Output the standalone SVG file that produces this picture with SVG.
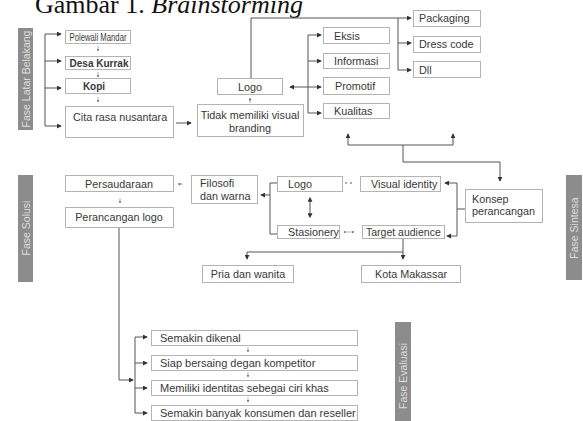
<svg xmlns="http://www.w3.org/2000/svg" width="583" height="421" viewBox="0 0 583 421">
<defs>
<marker id="ah" viewBox="0 0 6 6" refX="5" refY="3" markerWidth="5" markerHeight="5" markerUnits="userSpaceOnUse" orient="auto"><path d="M0,0 L6,3 L0,6 z" fill="#333"/></marker>
<marker id="ahs" viewBox="0 0 6 6" refX="5" refY="3" markerWidth="3" markerHeight="3" markerUnits="userSpaceOnUse" orient="auto"><path d="M0,0 L6,3 L0,6 z" fill="#777"/></marker>
<marker id="ahst" viewBox="0 0 6 6" refX="1" refY="3" markerWidth="5" markerHeight="5" markerUnits="userSpaceOnUse" orient="auto-start-reverse"><path d="M0,0 L6,3 L0,6 z" fill="#333"/></marker>
</defs>
<style>
.box{fill:#fff;stroke:#b4b4b4;stroke-width:1}
.t{font-family:"Liberation Sans",Arial,sans-serif;font-size:10.8px;fill:#383838}
.b{font-weight:bold;font-size:10px}
.e{font-size:11px}
.c{text-anchor:middle}
.bar{fill:#8c8c8c}
.bt{font-family:"Liberation Sans",Arial,sans-serif;font-size:10.5px;fill:#dedede;text-anchor:middle}
.ln{fill:none;stroke:#555;stroke-width:1}
.a{marker-end:url(#ah)}
.sm{fill:none;stroke:#999;stroke-width:0.7;marker-end:url(#ahs)}
</style>
<rect width="583" height="421" fill="#fff"/>
<text x="35" y="13" font-family="'Liberation Serif','Times New Roman',serif" font-size="26" fill="#111">Gambar 1. <tspan font-style="italic">Brainstorming</tspan></text>

<g id="phases">
<rect class="bar" x="18" y="28" width="15" height="102"/>
<text class="bt" transform="translate(29.5,79) rotate(-90)">Fase Latar Belakang</text>
<rect class="bar" x="18" y="175" width="15" height="107"/>
<text class="bt" transform="translate(29.5,228) rotate(-90)">Fase Solusi</text>
<rect class="bar" x="566" y="175" width="16" height="105"/>
<text class="bt" transform="translate(578,228) rotate(-90)">Fase Sintesa</text>
<rect class="bar" x="395" y="322" width="16" height="99"/>
<text class="bt" transform="translate(407,376) rotate(-90)">Fase Evaluasi</text>
</g>

<g id="connectors">
<path class="ln" d="M45,34 V126"/>
<path class="ln a" d="M45,34 H61"/>
<path class="ln a" d="M45,61 H61"/>
<path class="ln a" d="M45,88 H61"/>
<path class="ln a" d="M45,126 H61"/>
<path class="sm" d="M98,46 V51"/>
<path class="sm" d="M98,72 V77"/>
<path class="sm" d="M98,97 V102"/>
<path class="ln a" d="M176,123 H191"/>
<path class="sm" d="M250,103 V98"/>
<path class="ln a" d="M251,78 V18 H411"/>
<path class="ln" d="M398,18 V70"/>
<path class="ln a" d="M398,43 H411"/>
<path class="ln a" d="M398,70 H411"/>
<path class="ln" d="M308,35 V113"/>
<path class="ln a" d="M308,35 H321"/>
<path class="ln a" d="M308,61 H321"/>
<path class="ln a" d="M308,87 H321"/>
<path class="ln a" d="M308,113 H321"/>
<path class="ln a" d="M308,87 H290"/>
<path class="ln" d="M348,145 H453"/>
<path class="ln a" d="M348,145 V134"/>
<path class="ln a" d="M453,145 V134"/>
<path class="ln a" d="M403,145 V162 H500 V181"/>
<path class="ln" d="M465,209 H457"/>
<path class="ln" d="M457,183 V236"/>
<path class="ln a" d="M457,183 H445"/>
<path class="ln a" d="M457,236 H447"/>
<path class="ln" d="M345,183 H355" stroke-dasharray="2,3"/>
<path class="sm" d="M346,232 H354" style="marker-start:url(#ahs)"/>
<path class="ln" d="M310,201 V214" style="marker-start:url(#ahst);marker-end:url(#ahst)"/>
<path class="ln" d="M277,183 H270 V234 H277"/>
<path class="ln a" d="M270,195 H261"/>
<path class="sm" d="M183,184 H178"/>
<path class="sm" d="M120,198 V203"/>
<path class="ln" d="M403,238 V252"/>
<path class="ln" d="M247,252 H403"/>
<path class="ln a" d="M247,252 V259"/>
<path class="ln a" d="M403,252 V259"/>
<path class="ln" d="M119,227 V380"/>
<path class="ln a" d="M119,380 H133"/>
<path class="ln" d="M135,337 V413"/>
<path class="ln a" d="M135,337 H147"/>
<path class="ln a" d="M135,363 H147"/>
<path class="ln a" d="M135,388 H147"/>
<path class="ln a" d="M135,413 H147"/>
<path class="sm" d="M248,347 V352"/>
<path class="sm" d="M248,372 V377"/>
<path class="sm" d="M248,397 V402"/>
</g>

<g id="polewali"><rect class="box" x="65.5" y="30.5" width="65" height="13"/><text class="t c" x="98" y="40.5" font-size="10" textLength="57" lengthAdjust="spacingAndGlyphs">Polewali Mandar</text></g>
<g id="desa"><rect class="box" x="65.5" y="56.5" width="65" height="13"/><text class="t b c" x="99" y="66.5">Desa Kurrak</text></g>
<g id="kopi"><rect class="box" x="65.5" y="78.5" width="65" height="15"/><text class="t b c" x="94" y="90">Kopi</text></g>
<g id="citarasa"><rect class="box" x="65.5" y="106.5" width="108" height="31"/><text class="t" x="73" y="120.5">Cita rasa nusantara</text></g>
<g id="tidak"><rect class="box" x="197.5" y="104.5" width="106" height="32"/><text class="t c" x="250" y="119">Tidak memiliki visual</text><text class="t c" x="250" y="131.5">branding</text></g>
<g id="logo1"><rect class="box" x="217.5" y="78.5" width="65" height="16"/><text class="t c" x="250" y="90.5">Logo</text></g>
<g id="eksis"><rect class="box" x="323.5" y="27.5" width="66" height="16"/><text class="t" x="334" y="39.5">Eksis</text></g>
<g id="informasi"><rect class="box" x="323.5" y="53.5" width="66" height="15"/><text class="t" x="334" y="65">Informasi</text></g>
<g id="promotif"><rect class="box" x="323.5" y="77.5" width="66" height="17"/><text class="t" x="335" y="89.5">Promotif</text></g>
<g id="kualitas"><rect class="box" x="323.5" y="103.5" width="66" height="15"/><text class="t" x="334" y="114.5">Kualitas</text></g>
<g id="packaging"><rect class="box" x="413.5" y="10.5" width="67" height="16"/><text class="t" x="419" y="22">Packaging</text></g>
<g id="dresscode"><rect class="box" x="413.5" y="36.5" width="67" height="16"/><text class="t" x="419" y="48">Dress code</text></g>
<g id="dll"><rect class="box" x="413.5" y="61.5" width="67" height="16"/><text class="t" x="419" y="73.5">Dll</text></g>

<g id="persaudaraan"><rect class="box" x="65.5" y="175.5" width="108" height="16"/><text class="t c" x="119" y="187.5">Persaudaraan</text></g>
<g id="filosofi"><rect class="box" x="191.5" y="175.5" width="66" height="28"/><text class="t" x="200" y="187">Filosofi</text><text class="t" x="200" y="199.5">dan warna</text></g>
<g id="perancangan"><rect class="box" x="65.5" y="207.5" width="108" height="20"/><text class="t c" x="119" y="221">Perancangan logo</text></g>
<g id="logo2"><rect class="box" x="277.5" y="176.5" width="65" height="15"/><text class="t" x="288" y="187.5">Logo</text></g>
<g id="visual"><rect class="box" x="360.5" y="176.5" width="80" height="15"/><text class="t" x="371" y="187.5">Visual identity</text></g>
<g id="stasionery"><rect class="box" x="277.5" y="225.5" width="62" height="13"/><text class="t" x="288" y="235.5">Stasionery</text></g>
<g id="target"><rect class="box" x="362.5" y="225.5" width="82" height="13"/><text class="t" x="366" y="235.5" style="font-size:10.5px">Target audience</text></g>
<g id="konsep"><rect class="box" x="465.5" y="189.5" width="77" height="33"/><text class="t" x="472" y="202.5">Konsep</text><text class="t" x="472" y="215">perancangan</text></g>
<g id="pria"><rect class="box" x="202.5" y="265.5" width="91" height="17"/><text class="t c" x="248" y="277.5">Pria dan wanita</text></g>
<g id="kota"><rect class="box" x="361.5" y="265.5" width="99" height="17"/><text class="t c" x="411" y="277.5">Kota Makassar</text></g>

<g id="dikenal"><rect class="box" x="151.5" y="330.5" width="206" height="15"/><text class="t e" x="160" y="342">Semakin dikenal</text></g>
<g id="siap"><rect class="box" x="151.5" y="355.5" width="206" height="15"/><text class="t e" x="160" y="367">Siap bersaing degan kompetitor</text></g>
<g id="memiliki"><rect class="box" x="151.5" y="380.5" width="206" height="15"/><text class="t e" x="160" y="391.5">Memiliki identitas sebegai ciri khas</text></g>
<g id="banyak"><rect class="box" x="151.5" y="405.5" width="206" height="15"/><text class="t e" x="160" y="417">Semakin banyak konsumen dan reseller</text></g>
</svg>
